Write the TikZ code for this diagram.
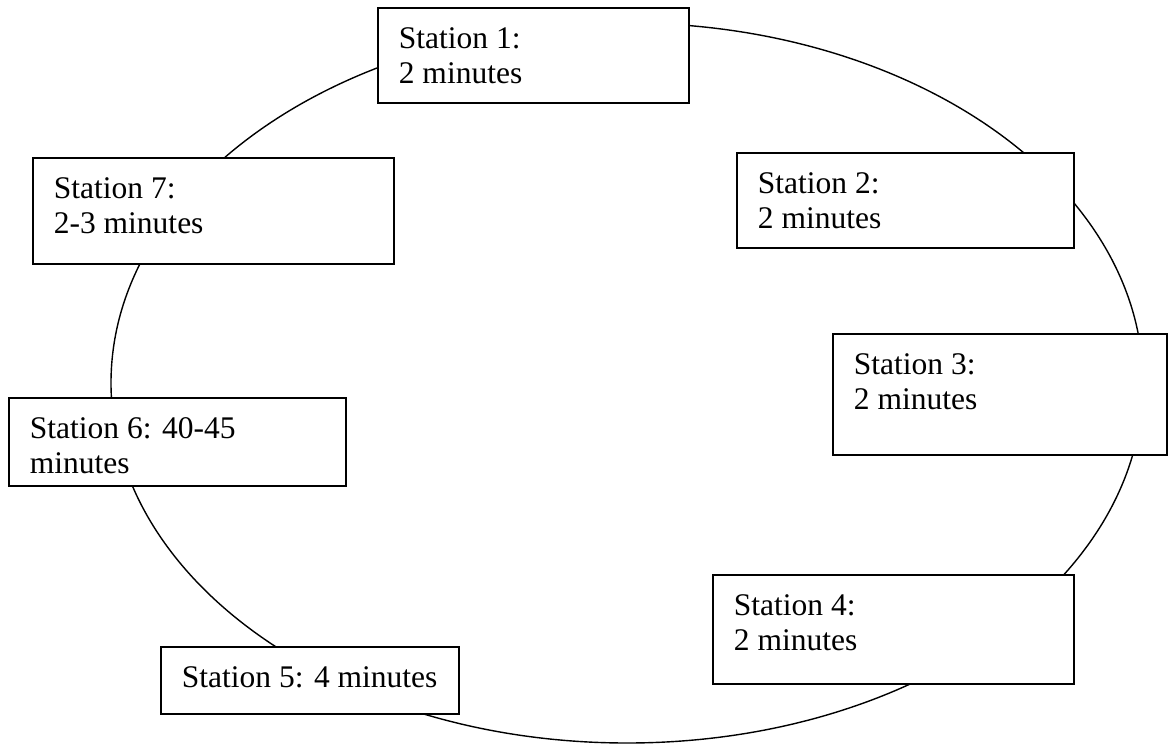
\documentclass[tikz,border=0pt]{standalone}
\usepackage{fontspec}
\setmainfont{Liberation Serif}
\usepackage{tikz}
\usetikzlibrary{positioning}
\tikzset{
  piste/.style={draw=black, line width=0.7pt},
  stationbox/.style={draw=black, fill=white, line width=0.9pt, inner sep=0pt,
    anchor=north west, font=\fontsize{15.75}{17.5}\selectfont},
}
% text box: width, height, text (top left aligned)
\newcommand{\stationlabel}[3]{%
  \parbox[c][#2][t]{#1}{\raggedright\leftskip=10.5pt\rule{0pt}{20.5pt}#3}}

\begin{document}
\begin{tikzpicture}[x=0.5pt, y=-0.5pt]
        \useasboundingbox (0,0) rectangle (1168,744);
        % the circuit
        \draw[piste] (627,383) ellipse [x radius=516, y radius=360];
        % the stations
        \foreach \nm/\px/\py/\w/\h/\txt in {
            st1/377/7/155.5pt/47.5pt/{Station 1:\\2 minutes},
            st2/736/152/168.5pt/47.5pt/{Station 2:\\2 minutes},
            st3/832/333/167pt/60.5pt/{Station 3:\\2 minutes},
            st4/712/574/180.5pt/54.5pt/{Station 4:\\2 minutes},
            st5/160/646/149pt/33.5pt/{Station 5: 4 minutes},
            st6/8/397/168.5pt/44pt/{Station 6: 40-45\\minutes},
            st7/32/157/180.5pt/53pt/{Station 7:\\2-3 minutes}} {
          \node[stationbox] (\nm) at (\px,\py) {\stationlabel{\w}{\h}{\txt}};
        }
      \end{tikzpicture}
\end{document}
